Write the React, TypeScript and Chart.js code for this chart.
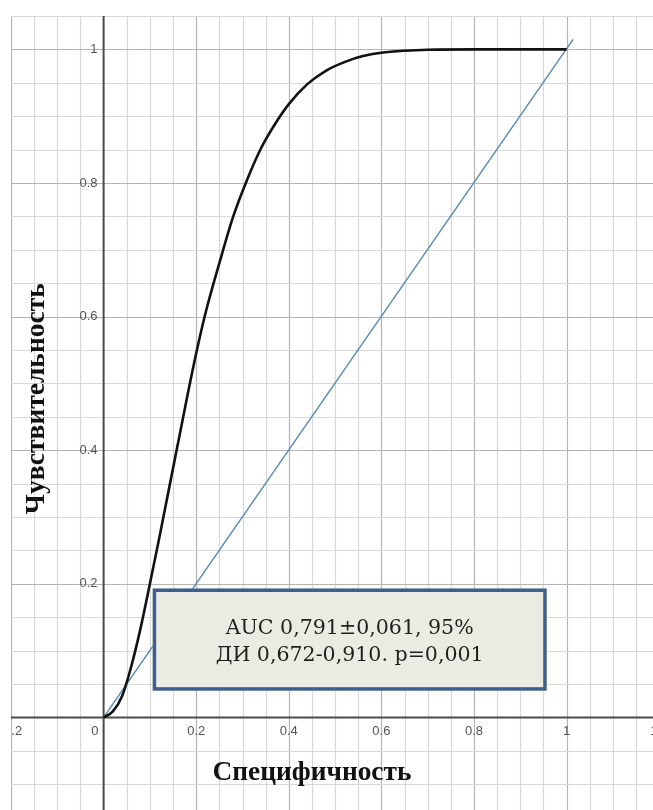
import React, { useEffect, useRef } from "react";
import { Chart, registerables } from "chart.js";

Chart.register(...registerables);

// ROC curve (1 - specificity on x, sensitivity on y)
const rocX = [0, 0.02, 0.04, 0.06, 0.08, 0.10, 0.12, 0.14, 0.16, 0.18, 0.20, 0.22, 0.25, 0.28, 0.31, 0.34, 0.37, 0.40, 0.44, 0.48, 0.52, 0.56, 0.60, 0.65, 0.70, 0.80, 0.90, 1];
const rocY = [0, 0.009, 0.032, 0.077, 0.134, 0.2, 0.268, 0.338, 0.408, 0.478, 0.545, 0.605, 0.68, 0.75, 0.805, 0.852, 0.888, 0.918, 0.948, 0.968, 0.981, 0.99, 0.995, 0.998, 0.9995, 1, 1, 1];
// reference diagonal
const diagX = [0, 1.014];
const diagY = [0, 1.015];

const xTickValues = [-0.2, 0, 0.2, 0.4, 0.6, 0.8, 1, 1.2];
const xTickLabels = ["-0.2", "0", "0.2", "0.4", "0.6", "0.8", "1", "1.2"];
const yTickValues = [0.2, 0.4, 0.6, 0.8, 1];
const yTickLabels = ["0.2", "0.4", "0.6", "0.8", "1"];

const xTitle = "Специфичность";
const yTitle = "Чувствительность";
const noteLines = ["AUC 0,791±0,061, 95%", "ДИ 0,672-0,910. p=0,001"];
// annotation box corners in data units
const noteBox = { x0: 0.106, x1: 0.957, y0: 0.04, y1: 0.193 };

const X_MIN = -0.2;
const X_MAX = 1.1866;
const Y_MIN = -0.1386;
const Y_MAX = 1.05;

function fitFont(ctx: CanvasRenderingContext2D, text: string, weight: string, family: string, width: number) {
  ctx.font = `${weight} 20px ${family}`;
  const w = ctx.measureText(text).width;
  const size = (20 * width) / w;
  return `${weight} ${size.toFixed(2)}px ${family}`;
}

const gridPlugin = {
  id: "desmosGrid",
  beforeDatasetsDraw(chart: any) {
    const { ctx, chartArea, scales } = chart;
    const xs = scales.x;
    const ys = scales.y;
    ctx.save();
    ctx.beginPath();
    ctx.rect(chartArea.left, chartArea.top, chartArea.right - chartArea.left, chartArea.bottom - chartArea.top);
    ctx.clip();
    ctx.fillStyle = "#ffffff";
    ctx.fillRect(chartArea.left, chartArea.top, chartArea.right - chartArea.left, chartArea.bottom - chartArea.top);
    // vertical lines
    for (let i = -4; i <= 24; i++) {
      const v = i * 0.05;
      const px = Math.round(xs.getPixelForValue(v)) + 0.5;
      if (i === 0) continue;
      ctx.strokeStyle = i % 4 === 0 ? "#b4b4b4" : "#d8d8d8";
      ctx.lineWidth = 1.2;
      ctx.beginPath();
      ctx.moveTo(px, chartArea.top);
      ctx.lineTo(px, chartArea.bottom);
      ctx.stroke();
    }
    for (let j = -3; j <= 21; j++) {
      const v = j * 0.05;
      const py = Math.round(ys.getPixelForValue(v)) + 0.5;
      if (j === 0) continue;
      ctx.strokeStyle = j % 4 === 0 ? "#b4b4b4" : "#d8d8d8";
      ctx.lineWidth = 1.2;
      ctx.beginPath();
      ctx.moveTo(chartArea.left, py);
      ctx.lineTo(chartArea.right, py);
      ctx.stroke();
    }
    // axes
    const x0 = xs.getPixelForValue(0);
    const y0 = ys.getPixelForValue(0);
    ctx.strokeStyle = "#4a4a4a";
    ctx.lineWidth = 2;
    ctx.beginPath();
    ctx.moveTo(x0, chartArea.top);
    ctx.lineTo(x0, chartArea.bottom);
    ctx.moveTo(chartArea.left, y0);
    ctx.lineTo(chartArea.right, y0);
    ctx.stroke();

    // tick labels
    ctx.fillStyle = "#555555";
    ctx.font = "13px 'Liberation Sans', Arial, sans-serif";
    ctx.textBaseline = "middle";
    xTickValues.forEach((v, i) => {
      const px = xs.getPixelForValue(v);
      if (v === 0) {
        ctx.textAlign = "right";
        ctx.fillText(xTickLabels[i], x0 - 5, y0 + 14);
      } else {
        ctx.textAlign = "center";
        ctx.fillText(xTickLabels[i], px, y0 + 14);
      }
    });
    ctx.textAlign = "right";
    yTickValues.forEach((v, i) => {
      ctx.fillText(yTickLabels[i], x0 - 6, ys.getPixelForValue(v));
    });

    // axis titles
    ctx.fillStyle = "#111111";
    ctx.font = fitFont(ctx, xTitle, "bold", "'Liberation Serif', 'Times New Roman', serif", 199);
    ctx.textAlign = "center";
    ctx.textBaseline = "middle";
    ctx.fillText(xTitle, xs.getPixelForValue(0.45), ys.getPixelForValue(-0.083));
    ctx.save();
    ctx.translate(xs.getPixelForValue(-0.145), ys.getPixelForValue(0.477));
    ctx.rotate(-Math.PI / 2);
    ctx.font = fitFont(ctx, yTitle, "bold", "'Liberation Serif', 'Times New Roman', serif", 231);
    ctx.fillText(yTitle, 0, 0);
    ctx.restore();
    ctx.restore();
  },
  afterDatasetsDraw(chart: any) {
    const { ctx, scales } = chart;
    const xs = scales.x;
    const ys = scales.y;
    const l = xs.getPixelForValue(noteBox.x0);
    const r = xs.getPixelForValue(noteBox.x1);
    const t = ys.getPixelForValue(noteBox.y1);
    const b = ys.getPixelForValue(noteBox.y0);
    ctx.save();
    ctx.fillStyle = "#ecebe3";
    ctx.fillRect(l, t, r - l, b - t);
    ctx.strokeStyle = "#3e5f8e";
    ctx.lineWidth = 3.5;
    ctx.strokeRect(l + 1.75, t + 1.75, r - l - 3.5, b - t - 3.5);
    ctx.fillStyle = "#1e1e1e";
    ctx.font = fitFont(ctx, noteLines[0], "normal", "'DejaVu Serif', serif", 248);
    ctx.textAlign = "center";
    ctx.textBaseline = "middle";
    const cx = (l + r) / 2;
    ctx.fillText(noteLines[0], cx, t + 40);
    ctx.fillText(noteLines[1], cx, t + 67);
    ctx.restore();
  },
};

export default function App() {
  const ref = useRef<HTMLCanvasElement | null>(null);
  useEffect(() => {
    if (!ref.current) return;
    const chart = new Chart(ref.current, {
      type: "scatter",
      data: {
        datasets: [
          {
            label: "ROC",
            data: rocX.map((x, i) => ({ x, y: rocY[i] })),
            showLine: true,
            borderColor: "#111111",
            borderWidth: 2.6,
            pointRadius: 0,
            cubicInterpolationMode: "monotone",
            order: 1,
          },
          {
            label: "diag",
            data: diagX.map((x, i) => ({ x, y: diagY[i] })),
            showLine: true,
            borderColor: "#5b8bb5",
            borderWidth: 1.5,
            pointRadius: 0,
            order: 2,
          },
        ],
      },
      options: {
        responsive: false,
        animation: false,
        devicePixelRatio: 1,
        layout: { padding: { left: 11, top: 16, right: 0, bottom: 0 } },
        plugins: { legend: { display: false }, tooltip: { enabled: false } },
        scales: {
          x: { type: "linear", min: X_MIN, max: X_MAX, display: false },
          y: { type: "linear", min: Y_MIN, max: Y_MAX, display: false },
        },
      },
      plugins: [gridPlugin],
    });
    return () => chart.destroy();
  }, []);
  return (
    <div style={{ position: "absolute", left: 0, top: 0, width: 653, height: 810, background: "#fff" }}>
      <canvas ref={ref} width={653} height={810} style={{ width: 653, height: 810, display: "block" }} />
    </div>
  );
}
